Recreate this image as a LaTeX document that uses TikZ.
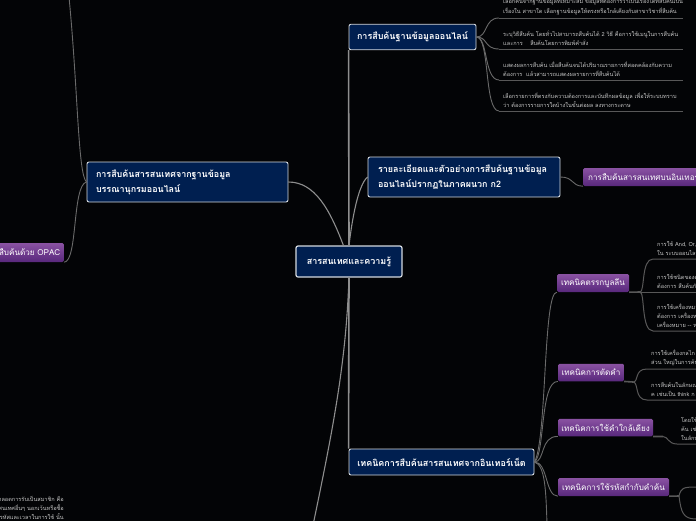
\documentclass[tikz,border=0pt]{standalone}
\usepackage{fontspec}
\newfontfamily\thaifont[Script=Thai]{Loma}
\definecolor{bgc}{HTML}{030406}
\definecolor{navy}{HTML}{001F50}
\definecolor{edgew}{HTML}{D5DAE0}
\definecolor{ptop}{HTML}{8A52A2}
\definecolor{pbot}{HTML}{58287C}
\definecolor{trunkc}{HTML}{8E8E8E}
\definecolor{linkc}{HTML}{6A6A6A}
\definecolor{leafc}{HTML}{585858}
\definecolor{leaft}{HTML}{C4C4C4}
\tikzset{
  mainbox/.style={draw=edgew,line width=0.9pt,fill=navy,rounded corners=2pt,text=white,font=\thaifont\bfseries\fontsize{8.95}{15}\selectfont,align=left,inner sep=0pt},
  purplebox/.style={draw=none,top color=ptop,bottom color=pbot,rounded corners=1.5pt,text=white,font=\thaifont\fontsize{8.1}{10}\selectfont,inner sep=0pt},
  leaftext/.style={text=leaft,font=\thaifont\fontsize{5.6}{9.2}\selectfont,align=left,inner xsep=4pt,inner ysep=3.2pt},
  trunk/.style={draw=trunkc,line width=1.6pt},
  link/.style={draw=linkc,line width=0.9pt},
  leafline/.style={draw=leafc,line width=1pt},
  stub/.style={draw=leafc,line width=1.6pt}
}
\begin{document}
\begin{tikzpicture}[x=1pt,y=-1pt]
\path[use as bounding box] (0,0) rectangle (696,520);
\clip (0,0) rectangle (696,520);
\fill[bgc] (-5,-5) rectangle (701,525);

% free ends and junctions
\coordinate (edgeTopLeft) at (69,-3);
\coordinate (edgeBotLeft) at (312,530);
\coordinate (edgeBotFan) at (547,525);
\coordinate (jBool) at (640,292);
\coordinate (jCut) at (633,382);
\coordinate (jNear) at (663,436.5);
\coordinate (jCode) at (679,496);
\coordinate (e1) at (696,259);
\coordinate (e2) at (696,292);
\coordinate (e3) at (696,331);
\coordinate (e4) at (696,369);
\coordinate (e5) at (696,400);
\coordinate (e6) at (696,444);
\coordinate (e7) at (696,487);
\coordinate (e8) at (696,519);

% main nodes
\node[mainbox,minimum width=106pt,minimum height=31pt,line width=1.2pt,align=center] (ctr) at (349,261.5) {สารสนเทศและความรู้};
\node[mainbox,minimum width=127pt,minimum height=25.5pt,align=center] (top) at (412.5,37) {การสืบค้นฐานข้อมูลออนไลน์};
\node[mainbox,minimum width=192pt,minimum height=40pt,text width=172pt] (nb) at (464,177) {รายละเอียดและตัวอย่างการสืบค้นฐานข้อมูล\\ออนไลน์ปรากฏในภาคผนวก ก2};
\node[mainbox,minimum width=201pt,minimum height=40pt,text width=183pt] (lft) at (187.5,182) {การสืบค้นสารสนเทศจากฐานข้อมูล\\บรรณานุกรมออนไลน์};
\node[mainbox,minimum width=185pt,minimum height=26pt,align=center] (bot) at (441.5,462) {เทคนิคการสืบค้นสารสนเทศจากอินเทอร์เน็ต};

% purple nodes
\node[purplebox,anchor=west,minimum width=150pt,minimum height=18pt,align=left,text width=146pt] (web) at (583,177) {\hspace{3pt}การสืบค้นสารสนเทศบนอินเทอร์เน็ต};
\node[purplebox,minimum width=72pt,minimum height=18pt] (bool) at (593,283) {เทคนิคตรรกบูลลีน};
\node[purplebox,minimum width=66pt,minimum height=17.5pt] (cut) at (591,372.5) {เทคนิคการตัดคำ};
\node[purplebox,minimum width=95pt,minimum height=17.5pt] (near) at (605.5,427.5) {เทคนิคการใช้คำใกล้เคียง};
\node[purplebox,minimum width=111pt,minimum height=18pt] (code) at (613.5,487) {เทคนิคการใช้รหัสกำกับคำค้น};
\node[purplebox,anchor=east,minimum height=19pt,inner xsep=3.5pt] (opac) at (64,252.5) {การสืบค้นด้วย OPAC};

% leaves of online database search
\node[leaftext,anchor=south west,text width=176pt] (a1) at (499,18) {\mbox{เลือกค้นจากฐานข้อมูลที่เหมาะสม ข้อมูลที่ต้องการว่าเป็นเรื่องใดที่สืบค้นเป็น}\\\mbox{เรื่องใน สาขาใด เลือกฐานข้อมูลให้ตรงหรือใกล้เคียงกับสาขาวิชาที่สืบค้น}};
\node[leaftext,anchor=south west,text width=176pt] (a2) at (499,49) {\mbox{ระบุวิธีสืบค้น โดยทั่วไปสามารถสืบค้นได้ 2 วิธี คือการใช้เมนูในการสืบค้น}\\\mbox{และการ \ \ \ สืบค้นโดยการพิมพ์คำสั่ง}};
\node[leaftext,anchor=south west,text width=176pt] (a3) at (499,80) {\mbox{แสดงผลการสืบค้น เมื่อสืบค้นจนได้ปริมาณรายการที่สอดคล้องกับความ}\\\mbox{ต้องการ \ แล้วสามารถแสดงผลรายการที่สืบค้นได้}};
\node[leaftext,anchor=south west,text width=176pt] (a4) at (499,111) {\mbox{เลือกรายการที่ตรงกับความต้องการและบันทึกผลข้อมูล เพื่อให้ระบบทราบ}\\\mbox{ว่า ต้องการรายการใดบ้างในขั้นต่อผล ลงทางกระดาษ}};

% leaves of technique branches
\node[leaftext,anchor=south west] (b1) at (653,259) {การใช้ And, Or, Not\\ใน ระบบออนไลน์};
\node[leaftext,anchor=south west] (b2) at (653,292) {การใช้ชนิดของคำ\\ต้องการ สืบค้นกับ};
\node[leaftext,anchor=south west] (b3) at (653,331) {การใช้เครื่องหมาย\\ต้องการ เครื่องหมาย\\เครื่องหมาย -- หรือ};
\node[leaftext,anchor=south west] (c1) at (647,369) {การใช้เครื่องกลไก\\ส่วน ใหญ่ในการค้น};
\node[leaftext,anchor=south west] (c2) at (647,400) {การสืบค้นในลักษณะ\\ค เช่นเป็น think ก};
\node[leaftext,anchor=south west] (d1) at (677,444) {โดยใช้\\ค้น เช่น\\ในลักษณะ};
\node[leaftext,anchor=north east,align=right,inner xsep=0pt] (o1) at (64,493) {มาตลอดการรับเป็นสมาชิก คือ\\สารสนเทศอื่นๆ นอกเว้นหรือซื้อ\\จำกัดรหัสและเวลาในการใช้ นั้น};

% trunk connectors
\draw[trunk] (ctr.north) -- (top.south west);
\draw[trunk] (ctr.south) -- (bot.north west);
\draw[trunk,line width=1.1pt] (ctr.north) .. controls (352,220) and (358,185) .. (nb.west);
\draw[trunk,line width=1.1pt] (ctr.north west) ++(48,0) .. controls (330,210) and (315,182) .. (lft.east);
\draw[trunk,line width=1.1pt] (ctr.south) .. controls (346,360) and (335,420) .. (edgeBotLeft);

% fan of top node
\draw[link] (top.east) .. controls (488,37) and (484,18) .. (a1.south west);
\draw[link] (top.east) .. controls (488,37) and (484,49) .. (a2.south west);
\draw[link] (top.east) .. controls (488,37) and (484,80) .. (a3.south west);
\draw[link] (top.east) .. controls (490,37) and (484,111) .. (a4.south west);
\draw[leafline] (a1.south west) -- (a1.south east);
\draw[leafline] (a2.south west) -- (a2.south east);
\draw[leafline] (a3.south west) -- (a3.south east);
\draw[leafline] (a4.south west) -- (a4.south east);

% second node to purple
\draw[link] (nb.east) .. controls (574,177) and (571,186) .. (web.south west);

% left node
\draw[link] (lft.west) .. controls (78,175) and (78,90) .. (edgeTopLeft);
\draw[link] (lft.west) .. controls (72,185) and (78,262) .. (opac.south east);

% fan of bottom node
\draw[link] (bot.east) .. controls (547,440) and (543,292) .. (bool.south west);
\draw[link] (bot.east) .. controls (545,455) and (540,381) .. (cut.south west);
\draw[link] (bot.east) .. controls (545,462) and (540,436) .. (near.south west);
\draw[link] (bot.east) .. controls (548,462) and (545,496) .. (code.south west);
\draw[link] (bot.east) .. controls (545,465) and (546,490) .. (edgeBotFan);

% branches of technique nodes
\draw[stub] (bool.south east) -- (jBool);
\draw[leafline] (jBool) -- (e2);
\draw[leafline] (jBool) .. controls (645,292) and (641,259) .. (b1.south west) -- (e1);
\draw[leafline] (jBool) .. controls (645,292) and (641,331) .. (b3.south west) -- (e3);
\draw[stub] (cut.south east) -- (jCut);
\draw[leafline] (jCut) .. controls (639,382) and (634,369) .. (c1.south west) -- (e4);
\draw[leafline] (jCut) .. controls (639,382) and (634,400) .. (c2.south west) -- (e5);
\draw[stub] (near.south east) -- (jNear);
\draw[leafline] (jNear) .. controls (668,436.5) and (668,444) .. (d1.south west) -- (e6);
\draw[stub] (code.south east) -- (jCode);
\draw[leafline] (jCode) .. controls (681,488) and (683,487) .. (e7);
\draw[leafline] (jCode) .. controls (681,512) and (683,519) .. (e8);
\end{tikzpicture}
\end{document}
